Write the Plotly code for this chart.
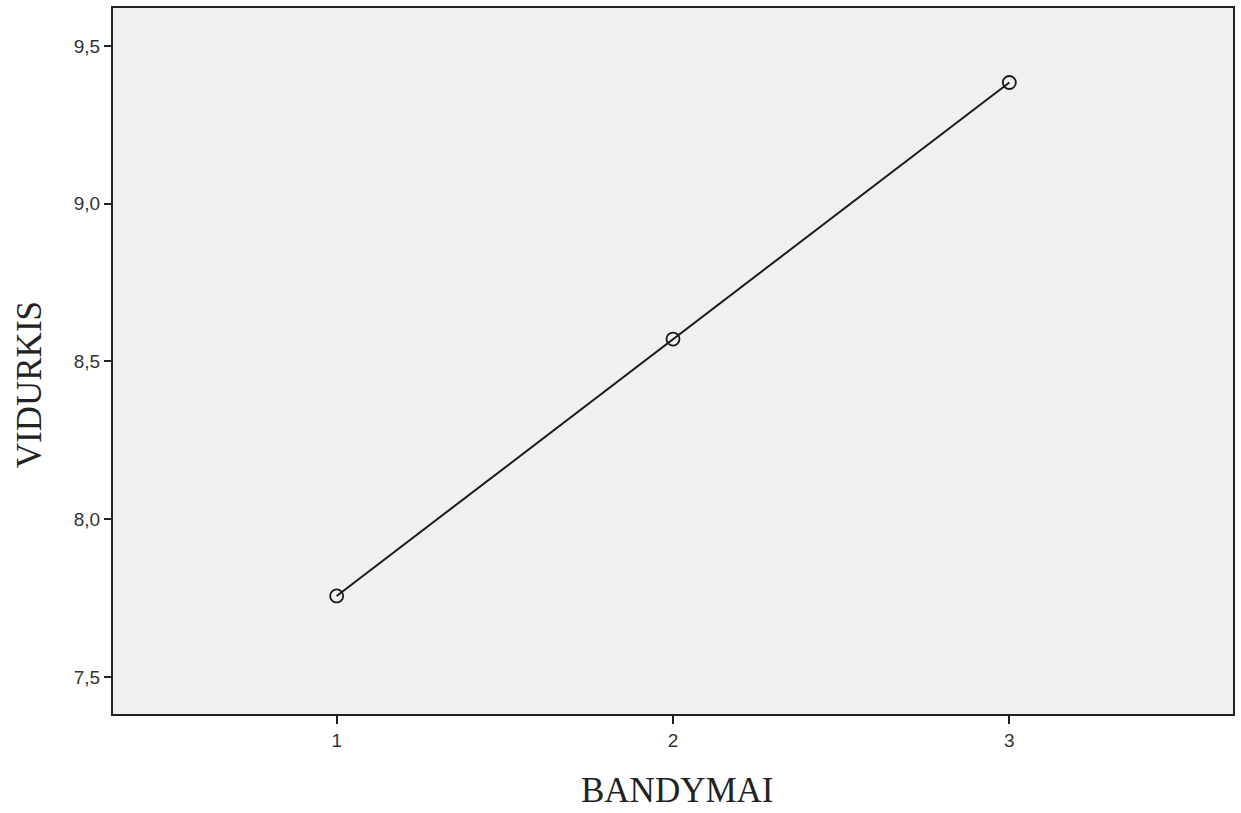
import plotly.graph_objects as go

bandymai = [1, 2, 3]
vidurkis = [7.757, 8.571, 9.384]
y_tickvals = [7.5, 8.0, 8.5, 9.0, 9.5]
y_ticktext = ["7,5", "8,0", "8,5", "9,0", "9,5"]
x_tickvals = [1, 2, 3]
x_ticktext = ["1", "2", "3"]
x_title = "BANDYMAI"
y_title = "VIDURKIS"

fig = go.Figure()
fig.add_trace(go.Scatter(
    x=bandymai, y=vidurkis, mode="lines+markers",
    line=dict(color="#1a1a1a", width=2),
    marker=dict(symbol="circle-open", size=13, color="#1a1a1a", line=dict(width=1.8)),
    showlegend=False,
))

title_font = dict(family="Liberation Serif, Times New Roman", size=35, color="#222222")
fig.update_layout(
    width=1241, height=813,
    margin=dict(l=113, r=6, t=8, b=99),
    paper_bgcolor="white",
    plot_bgcolor="#f0f0f0",
    font=dict(family="Liberation Sans, Arial", size=19, color="#333333"),
    annotations=[
        dict(text=x_title, xref="paper", yref="paper", x=0.5036, y=-0.108,
             xanchor="center", yanchor="middle", showarrow=False, font=title_font),
        dict(text=y_title, xref="paper", yref="paper", x=-0.0748, y=0.466,
             xanchor="center", yanchor="middle", showarrow=False, textangle=-90, font=title_font),
    ],
)
fig.update_xaxes(
    range=[0.335, 3.665], tickvals=x_tickvals, ticktext=x_ticktext,
    showgrid=False, zeroline=False, showline=True, linecolor="#222222", linewidth=2,
    mirror=True, ticks="outside", ticklen=8, tickwidth=2, tickcolor="#222222",
)
fig.update_yaxes(
    range=[7.383, 9.62], tickvals=y_tickvals, ticktext=y_ticktext,
    showgrid=False, zeroline=False, showline=True, linecolor="#222222", linewidth=2,
    mirror=True, ticks="outside", ticklen=7, tickwidth=2, tickcolor="#222222",
)

fig.write_html("out.html", config={"displayModeBar": False},
               post_script="document.body.style.margin='0';")
